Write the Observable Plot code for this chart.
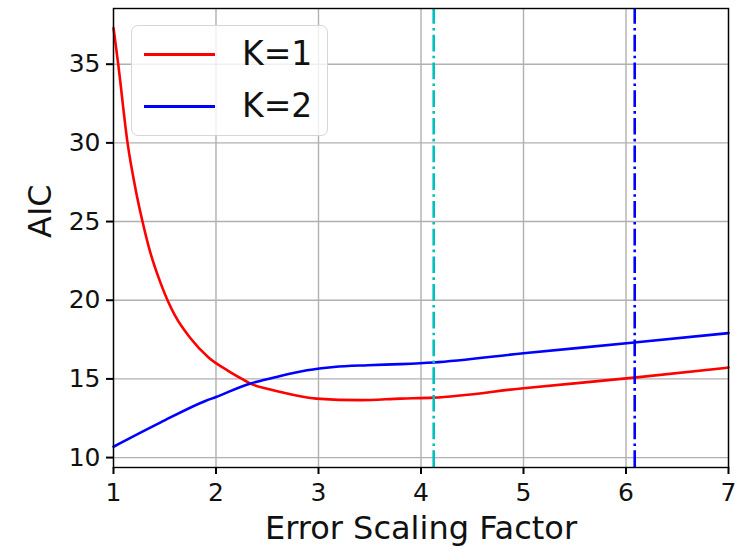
<!DOCTYPE html>
<html><head><meta charset="utf-8">
<script src="https://cdn.jsdelivr.net/npm/d3@7"></script>
<script src="https://cdn.jsdelivr.net/npm/@observablehq/plot@0.6"></script>
<style>
body{margin:0;background:#fff;}
#wrap{position:relative;width:735px;height:547px;font-family:"DejaVu Sans",sans-serif;}
#legend{position:absolute;left:131px;top:25px;width:195px;height:109px;border:1.5px solid #d6d6d6;border-radius:7px;background:rgba(255,255,255,0.8);}
.row{position:absolute;left:0;height:0;}
.swatch{position:absolute;left:12px;width:71px;height:3px;margin-top:-1.5px;}
.lab{position:absolute;left:110px;top:-19px;font-size:33px;line-height:38px;color:#111;white-space:nowrap;}
</style>
</head><body>
<div id="wrap"><div id="chart"></div><div id="legend"></div></div>
<script>
// Series K=1
const xK1 = [1.0, 1.046, 1.137, 1.212, 1.283, 1.352, 1.456, 1.527, 1.602, 1.749, 1.927, 2.122, 2.253, 2.33, 2.53, 2.63, 2.98, 3.41, 3.8, 4.12, 5.0, 6.08, 7.0];
const aicK1 = [37.3, 35.0, 30.0, 27.17, 25.0, 23.2, 21.15, 20.0, 19.0, 17.6, 16.36, 15.5, 15.0, 14.72, 14.33, 14.17, 13.75, 13.65, 13.75, 13.81, 14.41, 15.08, 15.72];
// Series K=2
const xK2 = [1.0, 1.456, 1.896, 2.0, 2.33, 2.432, 2.627, 2.888, 3.15, 3.48, 3.8, 4.12, 5.0, 6.08, 7.0];
const aicK2 = [10.69, 12.22, 13.6, 13.85, 14.7, 14.87, 15.19, 15.55, 15.76, 15.87, 15.94, 16.04, 16.63, 17.31, 17.91];
// Vertical markers
const vlines = [4.124, 6.085];
const vlineColors = ["#00bfbf", "#0000ff"];
// Legend / series
const seriesNames = ["K=1", "K=2"];
const seriesColors = ["#ff0000", "#0000ff"];
// Axes
const xTicks = [1, 2, 3, 4, 5, 6, 7];
const yTicks = [10, 15, 20, 25, 30, 35];
const xDomain = [1, 7];
const yDomain = [9.37, 38.54];
const xLabel = "Error Scaling Factor";
const yLabel = "AIC";

const k1 = xK1.map((x, i) => ({x, v: aicK1[i]}));
const k2 = xK2.map((x, i) => ({x, v: aicK2[i]}));
const dash = "16.7,4.2,2.6,4.2";

const plot = Plot.plot({
  width: 735, height: 547,
  marginLeft: 113, marginRight: 7, marginTop: 8, marginBottom: 80,
  style: {fontFamily: "DejaVu Sans", fontSize: "25px", color: "#111", background: "white"},
  x: {domain: xDomain, label: null},
  y: {domain: yDomain, label: null},
  marks: [
    Plot.gridX(xTicks, {stroke: "#b0b0b0", strokeOpacity: 1, strokeWidth: 1.4}),
    Plot.gridY(yTicks, {stroke: "#b0b0b0", strokeOpacity: 1, strokeWidth: 1.4}),
    Plot.line(k1, {x: "x", y: "v", stroke: seriesColors[0], strokeWidth: 2.6, curve: "monotone-x"}),
    Plot.line(k2, {x: "x", y: "v", stroke: seriesColors[1], strokeWidth: 2.6, curve: "monotone-x"}),
    Plot.ruleX([vlines[0]], {y1: yDomain[0], y2: yDomain[1], stroke: vlineColors[0], strokeWidth: 2.6, strokeDasharray: dash}),
    Plot.ruleX([vlines[1]], {y1: yDomain[0], y2: yDomain[1], stroke: vlineColors[1], strokeWidth: 2.6, strokeDasharray: dash}),
    Plot.frame({stroke: "black", strokeWidth: 1.4}),
    Plot.axisX(xTicks, {tickSize: 7, tickPadding: 9, strokeWidth: 2, label: null, stroke: "black"}),
    Plot.axisY(yTicks, {tickSize: 7, tickPadding: 6, strokeWidth: 2, label: null, stroke: "black"}),
    Plot.text([xLabel], {text: d => d, frameAnchor: "bottom", dy: 71, fontSize: 32, fill: "#111"}),
    Plot.text([yLabel], {text: d => d, frameAnchor: "left", dx: -73, rotate: -90, fontSize: 32, fill: "#111"})
  ]
});
document.getElementById("chart").appendChild(plot);

const leg = document.getElementById("legend");
seriesNames.forEach((name, i) => {
  const row = document.createElement("div");
  row.className = "row";
  row.style.top = (28 + i * 52) + "px";
  const sw = document.createElement("div");
  sw.className = "swatch";
  sw.style.background = seriesColors[i];
  const lab = document.createElement("div");
  lab.className = "lab";
  lab.textContent = name;
  row.appendChild(sw); row.appendChild(lab);
  leg.appendChild(row);
});
</script>
</body></html>
